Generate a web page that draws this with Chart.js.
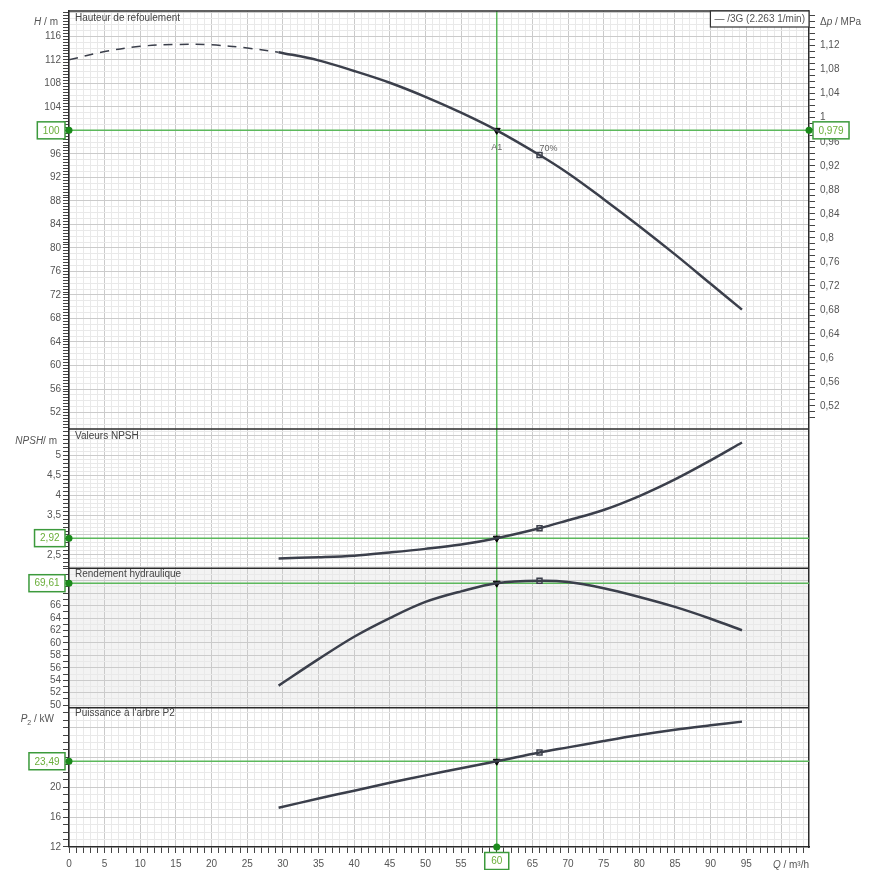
<!DOCTYPE html>
<html>
<head>
<meta charset="utf-8">
<script src="https://cdn.jsdelivr.net/npm/chart.js@4.4.1/dist/chart.umd.min.js"></script>
<style>
  html, body { margin: 0; padding: 0; background: #fff; }
</style>
</head>
<body>
<canvas id="pump" width="873" height="870"></canvas>
<script>
// ---- data ----
const shutoffQ = [0, 5, 10, 15, 20, 25, 29.4];
const shutoffH = [112.0, 113.4, 114.3, 114.6, 114.55, 114.0, 113.3];

const flowQ   = [29.4, 35, 40, 45, 50, 55, 60, 66, 70, 75, 80, 85, 90, 94.4];
const headH   = [113.3, 111.9, 110.1, 108.1, 105.7, 103.0, 100.0, 95.8, 92.7, 88.3, 83.7, 78.9, 73.9, 69.5];
const npshR   = [2.41, 2.44, 2.48, 2.56, 2.65, 2.76, 2.92, 3.17, 3.37, 3.63, 3.98, 4.40, 4.88, 5.33];
const effHyd  = [53.15, 57.4, 61.0, 64.0, 66.6, 68.3, 69.61, 70.0, 69.8, 68.8, 67.4, 65.8, 63.9, 62.05];
const powerP2 = [17.25, 18.5, 19.55, 20.6, 21.6, 22.55, 23.49, 24.67, 25.35, 26.2, 27.0, 27.7, 28.3, 28.8];

// duty point A1 and 70 % point
const dutyQ = 60;
const dutyH = 100, dutyDp = 0.979, dutyNpsh = 2.92, dutyEff = 69.61, dutyP = 23.49;
const bestQ = 66;

// tick labels
const qTickLabels    = [0, 5, 10, 15, 20, 25, 30, 35, 40, 45, 50, 55, 65, 70, 75, 80, 85, 90, 95];
const hTickLabels    = [52, 56, 60, 64, 68, 72, 76, 80, 84, 88, 92, 96, 104, 108, 112, 116];
const dpTickLabels   = [0.52, 0.56, 0.6, 0.64, 0.68, 0.72, 0.76, 0.8, 0.84, 0.88, 0.92, 0.96, 1, 1.04, 1.08, 1.12];
const npshTickLabels = [2.5, 3.5, 4, 4.5, 5];
const effTickLabels  = [50, 52, 54, 56, 58, 60, 62, 64, 66];
const pTickLabels    = [12, 16, 20];

// axis ranges
const hMin = 49.2, hMax = 120.3;
const mpaPerM = 0.00979;

const FONT = '"Liberation Sans", Arial, sans-serif';
const CURVE = '#3b3f4b';
const MAJOR = '#cbcbcb', MINOR = '#e9e9e9';
const GREEN = '#5cb85c', GREEN_DARK = '#3c9a3c', GREEN_TEXT = '#6aae3a', GREEN_DOT = '#1b8a1b';

Chart.defaults.font.family = FONT;

const near = (v, arr) => arr.some(a => Math.abs(a - v) < 1e-6);
const isMult = (v, m) => Math.abs(v / m - Math.round(v / m)) < 1e-6;
const fmt = v => String(+v.toFixed(3)).replace('.', ',');
const pts = (xs, ys) => xs.map((x, i) => ({ x: x, y: ys[i] }));
const at = (ys, q) => ys[flowQ.indexOf(q)];

function yPanel(weight, min, max, step, gridStep, majorStep, labels) {
  return {
    type: 'linear', position: 'left', stack: 'panels', stackWeight: weight,
    min: min, max: max,
    afterFit(s) { s.width = 69; },
    border: { color: '#2b2b2b', width: 1.5 },
    grid: {
      color: c => isMult(c.tick.value, majorStep) ? MAJOR : (isMult(c.tick.value, gridStep) ? MINOR : 'rgba(0,0,0,0)'),
      tickColor: '#444', tickLength: 6, lineWidth: 1, tickWidth: 1
    },
    ticks: {
      stepSize: step, includeBounds: false, autoSkip: false, padding: 2, color: '#555', font: { size: 10 },
      callback: v => near(v, labels) ? fmt(v) : ''
    }
  };
}

function curve(data, yAxisID, extra) {
  return Object.assign({
    data: data, yAxisID: yAxisID, xAxisID: 'x',
    borderColor: CURVE, borderWidth: 2.5, pointRadius: 0,
    tension: 0.35, fill: false
  }, extra || {});
}
function dutyMark(y, yAxisID) {
  return { data: [{ x: dutyQ, y: y }], yAxisID: yAxisID, xAxisID: 'x', showLine: false,
    pointStyle: 'triangle', rotation: 180, pointRadius: 4, backgroundColor: '#000', borderColor: '#000', borderWidth: 1 };
}
function bestMark(y, yAxisID) {
  return { data: [{ x: bestQ, y: y }], yAxisID: yAxisID, xAxisID: 'x', showLine: false,
    pointStyle: 'rect', pointRadius: 3.5, backgroundColor: '#fff', borderColor: CURVE, borderWidth: 1.5 };
}

function drawParts(ctx, parts, x, y, align) {
  const widths = parts.map(p => { ctx.font = (p.i ? 'italic ' : '') + (p.sub ? 7 : 10) + 'px ' + FONT; return ctx.measureText(p.t).width; });
  const total = widths.reduce((a, b) => a + b, 0);
  let cx = align === 'right' ? x - total : x;
  ctx.textAlign = 'left'; ctx.textBaseline = 'middle'; ctx.fillStyle = '#555';
  parts.forEach((p, k) => {
    ctx.font = (p.i ? 'italic ' : '') + (p.sub ? 7 : 10) + 'px ' + FONT;
    ctx.fillText(p.t, cx, p.sub ? y + 3 : y);
    cx += widths[k];
  });
}

function greenBox(ctx, text, x, y, align) {
  ctx.font = '10px ' + FONT;
  const w = Math.max(ctx.measureText(text).width + 11, 24), h = 17;
  const x0 = align === 'right' ? x - w : align === 'left' ? x : x - w / 2;
  ctx.fillStyle = '#fff';
  ctx.fillRect(x0, y - h / 2, w, h);
  ctx.strokeStyle = GREEN_DARK; ctx.lineWidth = 1.5;
  ctx.strokeRect(x0, y - h / 2, w, h);
  ctx.fillStyle = GREEN_TEXT; ctx.textAlign = 'center'; ctx.textBaseline = 'middle';
  ctx.fillText(text, x0 + w / 2, y + 0.5);
}
function dot(ctx, x, y) {
  ctx.fillStyle = GREEN_DOT;
  ctx.beginPath(); ctx.arc(x, y, 3.5, 0, Math.PI * 2); ctx.fill();
}

const decor = {
  id: 'decor',
  beforeDraw(chart) {
    const { ctx, chartArea: a, scales: s } = chart;
    ctx.save();
    ctx.fillStyle = '#f3f3f3';
    ctx.fillRect(a.left, s.yE.top, a.right - a.left, s.yE.bottom - s.yE.top);
    ctx.restore();
  },
  beforeDatasetsDraw(chart) {
    const { ctx, chartArea: a, scales: s } = chart;
    ctx.save();
    ctx.strokeStyle = GREEN; ctx.lineWidth = 1.5;
    const hl = (scale, v) => { const y = scale.getPixelForValue(v); ctx.beginPath(); ctx.moveTo(a.left, y); ctx.lineTo(a.right, y); ctx.stroke(); };
    hl(s.yH, dutyH); hl(s.yN, dutyNpsh); hl(s.yE, dutyEff); hl(s.yP, dutyP);
    const xq = s.x.getPixelForValue(dutyQ);
    ctx.beginPath(); ctx.moveTo(xq, a.top); ctx.lineTo(xq, a.bottom); ctx.stroke();
    ctx.restore();
  },
  afterDraw(chart) {
    const { ctx, chartArea: a, scales: s } = chart;
    ctx.save();
    // panel frames
    ctx.strokeStyle = '#2b2b2b'; ctx.lineWidth = 1.5;
    [s.yH.top, s.yN.top, s.yE.top, s.yP.top].forEach(y => {
      ctx.beginPath(); ctx.moveTo(a.left, y); ctx.lineTo(a.right, y); ctx.stroke();
    });
    // panel titles
    ctx.fillStyle = '#444'; ctx.font = '10px ' + FONT; ctx.textAlign = 'left'; ctx.textBaseline = 'middle';
    ctx.fillText('Hauteur de refoulement', a.left + 6, s.yH.top + 7);
    ctx.fillText('Valeurs NPSH', a.left + 6, s.yN.top + 7);
    ctx.fillText('Rendement hydraulique', a.left + 6, s.yE.top + 6);
    ctx.fillText("Puissance à l'arbre P2", a.left + 6, s.yP.top + 6);
    // axis titles
    drawParts(ctx, [{ t: 'H', i: true }, { t: ' / m' }], 58, s.yH.top + 11, 'right');
    drawParts(ctx, [{ t: 'NPSH', i: true }, { t: '/ m' }], 57, s.yN.top + 12, 'right');
    drawParts(ctx, [{ t: 'P', i: true }, { t: '2', sub: true }, { t: ' / kW' }], 54, s.yP.top + 12, 'right');
    drawParts(ctx, [{ t: 'Δ' }, { t: 'p', i: true }, { t: ' / MPa' }], a.right + 11, s.yH.top + 11, 'left');
    drawParts(ctx, [{ t: 'Q', i: true }, { t: ' / m³/h' }], a.right, s.x.top + 18, 'right');
    // legend
    ctx.font = '10px ' + FONT;
    const lt = '— /3G (2.263 1/min)';
    const lw = ctx.measureText(lt).width + 8;
    ctx.fillStyle = '#fff'; ctx.fillRect(a.right - lw, a.top, lw, 16);
    ctx.strokeStyle = '#333'; ctx.lineWidth = 1.2; ctx.strokeRect(a.right - lw, a.top, lw, 16);
    ctx.fillStyle = '#555'; ctx.textAlign = 'left'; ctx.fillText(lt, a.right - lw + 4, a.top + 8);
    // point labels
    ctx.fillStyle = '#666'; ctx.font = '9px ' + FONT; ctx.textAlign = 'center';
    const xq = s.x.getPixelForValue(dutyQ), xb = s.x.getPixelForValue(bestQ);
    ctx.fillText('A1', xq, s.yH.getPixelForValue(dutyH) + 17);
    ctx.textAlign = 'left';
    ctx.fillText('70%', xb, s.yH.getPixelForValue(at(headH, bestQ)) - 7);
    // green value boxes and dots
    [[s.yH, dutyH], [s.yN, dutyNpsh], [s.yE, dutyEff], [s.yP, dutyP]].forEach(([sc, v]) => {
      const y = sc.getPixelForValue(v);
      greenBox(ctx, fmt(v), a.left - 4, y, 'right');
      dot(ctx, a.left, y);
    });
    const yh = s.yH.getPixelForValue(dutyH);
    greenBox(ctx, fmt(dutyDp), a.right + 4, yh, 'left');
    dot(ctx, a.right, yh);
    greenBox(ctx, fmt(dutyQ), xq, a.bottom + 14, 'center');
    dot(ctx, xq, a.bottom);
    ctx.restore();
  }
};

const dpMax = hMax * mpaPerM;
const dpMin = dpMax - 2 * (hMax - hMin) * mpaPerM;

new Chart(document.getElementById('pump'), {
  type: 'line',
  data: {
    datasets: [
      curve(pts(shutoffQ, shutoffH), 'yH', { borderWidth: 1.5, borderDash: [9, 7] }),
      curve(pts(flowQ, headH), 'yH'),
      curve(pts(flowQ, npshR), 'yN'),
      curve(pts(flowQ, effHyd), 'yE'),
      curve(pts(flowQ, powerP2), 'yP'),
      dutyMark(dutyH, 'yH'), dutyMark(dutyNpsh, 'yN'), dutyMark(dutyEff, 'yE'), dutyMark(dutyP, 'yP'),
      bestMark(at(headH, bestQ), 'yH'), bestMark(at(npshR, bestQ), 'yN'),
      bestMark(at(effHyd, bestQ), 'yE'), bestMark(at(powerP2, bestQ), 'yP')
    ]
  },
  options: {
    responsive: false,
    animation: false,
    layout: { padding: { top: 7, left: 0, right: 0, bottom: 0 } },
    plugins: { legend: { display: false }, tooltip: { enabled: false } },
    scales: {
      x: {
        type: 'linear', position: 'bottom', min: 0, max: 103.8,
        afterFit(s) { s.height = 23; },
        border: { color: '#2b2b2b', width: 1.5 },
        grid: {
          color: c => isMult(c.tick.value, 5) ? MAJOR : (isMult(c.tick.value, 1) ? MINOR : 'rgba(0,0,0,0)'),
          tickColor: '#444', tickLength: 6
        },
        ticks: {
          stepSize: 1, includeBounds: false, autoSkip: false, maxRotation: 0, padding: 5, color: '#555', font: { size: 10 },
          callback: v => near(v, qTickLabels) ? fmt(v) : ''
        }
      },
      // left stack is laid out bottom-up, so the lowest panel comes first
      yP: yPanel(1, 12, 30.67, 1, 1, 4, pTickLabels),
      yE: yPanel(1, 49.6, 72.0, 1, 1, 2, effTickLabels),
      yN: yPanel(1, 2.16, 5.67, 0.1, 0.1, 0.5, npshTickLabels),
      yH: yPanel(3, hMin, hMax, 0.5, 1, 4, hTickLabels),
      yDp: {
        type: 'linear', position: 'right', min: dpMin, max: dpMax,
        afterFit(s) { s.width = 64; },
        border: { color: '#2b2b2b', width: 1.5 },
        grid: {
          drawOnChartArea: false,
          tickColor: c => c.tick.value > 0.495 ? '#444' : 'rgba(0,0,0,0)',
          tickLength: 6
        },
        ticks: {
          stepSize: 0.01, includeBounds: false, autoSkip: false, padding: 5, color: '#555', font: { size: 10 },
          callback: v => near(+v.toFixed(4), dpTickLabels) ? fmt(v) : ''
        }
      }
    }
  },
  plugins: [decor]
});
</script>
</body>
</html>
